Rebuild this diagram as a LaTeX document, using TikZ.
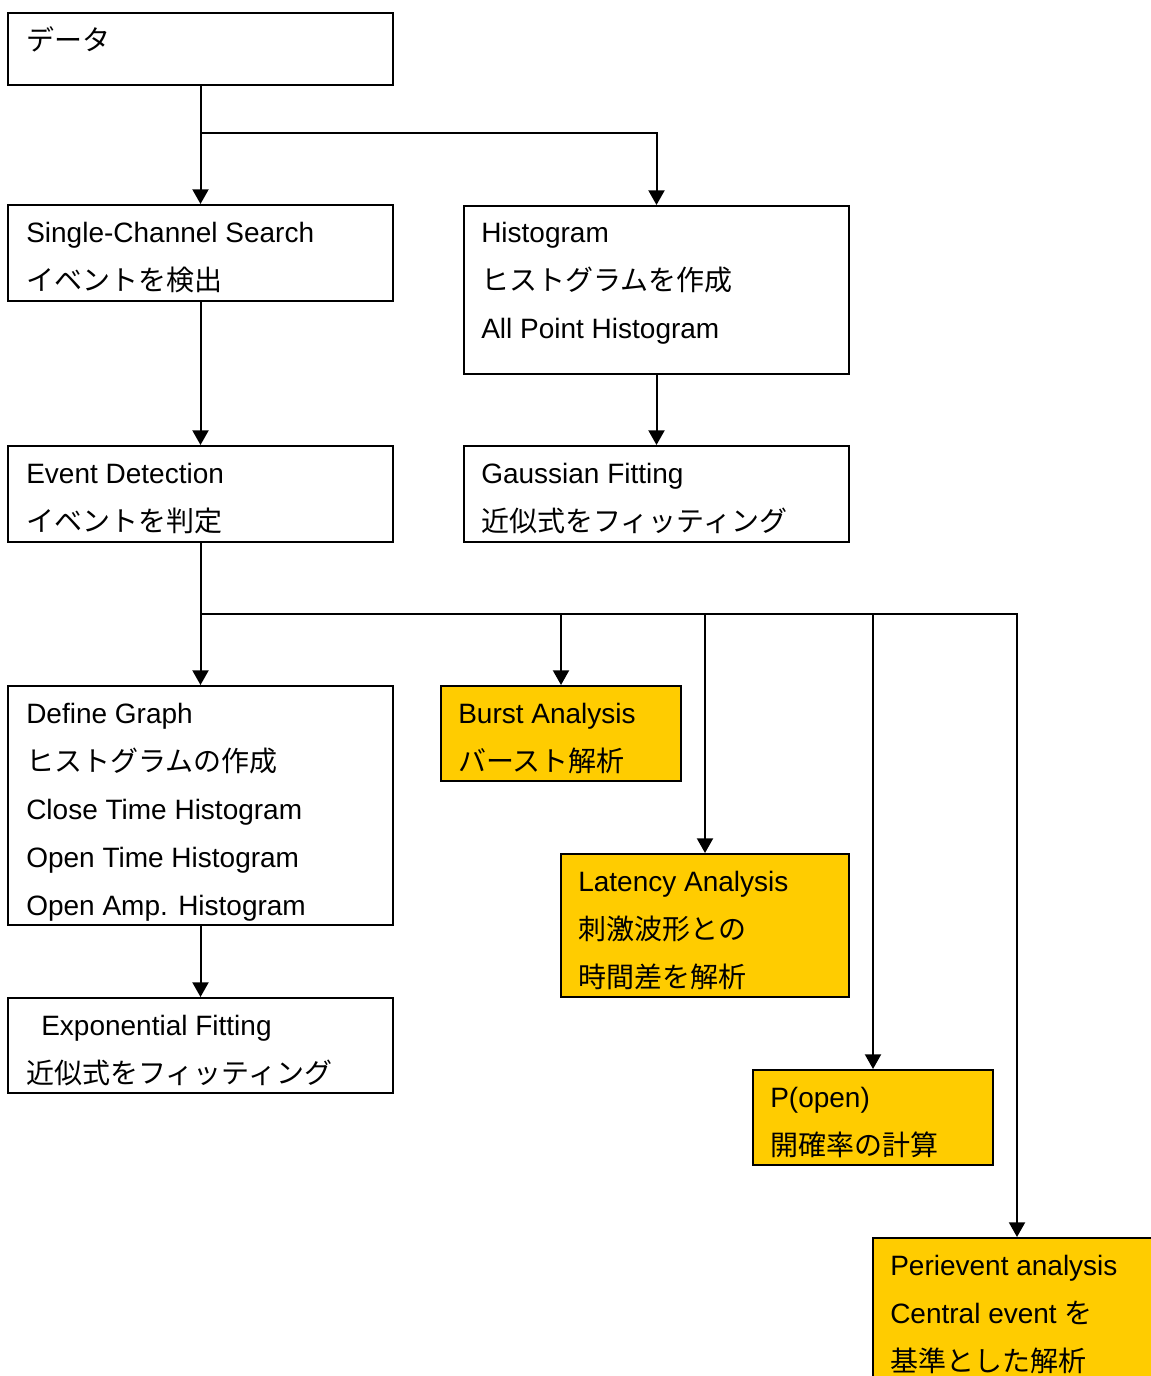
\documentclass[tikz,border=0pt]{standalone}
\usepackage{fontspec}
\setmainfont{Liberation Sans}
\newfontfamily\jpfont{Noto Sans CJK JP}
\newcommand\jptext[1]{{\jpfont #1}}
\usetikzlibrary{arrows.meta,fit}
\definecolor{boxyellow}{HTML}{FFCC00}
\tikzset{
  box/.style={draw=black, line width=1.5pt, inner sep=0pt, fill=white},
  ybox/.style={box, fill=boxyellow},
  txt/.style={anchor=base west, inner sep=0pt, font=\fontsize{21}{25}\selectfont},
  conn/.style={line width=1.5pt},
  arr/.style={conn, -{Triangle[width=12pt,length=11pt]}}
}
\begin{document}
\begin{tikzpicture}[x=0.75pt,y=-0.75pt]
\path[use as bounding box] (0,0) rectangle (1151,1376);
\clip (0,0) rectangle (1151,1376);
% boxes
\node[box, fit={(8,13)(393,85)}] (data) {};
\node[box, fit={(8,205)(393,301)}] (single) {};
\node[box, fit={(464,206)(849,374)}] (hist) {};
\node[box, fit={(8,446)(393,542)}] (ed) {};
\node[box, fit={(464,446)(849,542)}] (gauss) {};
\node[box, fit={(8,686)(393,925)}] (dg) {};
\node[ybox, fit={(441,686)(681,781)}] (burst) {};
\node[ybox, fit={(561,854)(849,997)}] (lat) {};
\node[box, fit={(8,998)(393,1093)}] (expf) {};
\node[ybox, fit={(753,1070)(993,1165)}] (popen) {};
\node[ybox, fit={(873,1238)(1161,1400)}] (peri) {};
% texts
\node[txt] (t1) at (26,51) {\jptext{データ}};
\node[txt] (t2a) at (26,243) {Single-Channel Search};
\node[txt] (t2b) at (26,291) {\jptext{イベントを検出}};
\node[txt] (t3a) at (481,243) {Histogram};
\node[txt] (t3b) at (481,291) {\jptext{ヒストグラムを作成}};
\node[txt] (t3c) at (481,339) {All Point Histogram};
\node[txt] (t4a) at (26,483) {Event Detection};
\node[txt] (t4b) at (26,531) {\jptext{イベントを判定}};
\node[txt] (t5a) at (481,483) {Gaussian Fitting};
\node[txt] (t5b) at (481,531) {\jptext{近似式をフィッティング}};
\node[txt] (t6a) at (26,723) {Define Graph};
\node[txt] (t6b) at (26,771) {\jptext{ヒストグラムの作成}};
\node[txt] (t6c) at (26,819) {Close Time Histogram};
\node[txt] (t6d) at (26,867) {Open Time Histogram};
\node[txt] (t6e) at (26,915) {Open Amp. Histogram};
\node[txt] (t7a) at (458,723) {Burst Analysis};
\node[txt] (t7b) at (458,771) {\jptext{バースト解析}};
\node[txt] (t8a) at (578,891) {Latency Analysis};
\node[txt] (t8b) at (578,939) {\jptext{刺激波形との}};
\node[txt] (t8c) at (578,987) {\jptext{時間差を解析}};
\node[txt] (t9a) at (41,1035) {Exponential Fitting};
\node[txt] (t9b) at (26,1083) {\jptext{近似式をフィッティング}};
\node[txt] (t10a) at (770,1107) {P(open)};
\node[txt] (t10b) at (770,1155) {\jptext{開確率の計算}};
\node[txt] (t11a) at (890,1275) {Perievent analysis};
\node[txt] (t11b) at (890,1323) {Central event \jptext{を}};
\node[txt] (t11c) at (890,1371) {\jptext{基準とした解析}};
% connectors
\coordinate (j1) at (200.5,133);
\coordinate (j2) at (200.5,614);
\draw[arr] (data.south) -- (single.north);
\draw[arr] (j1) -| (hist.north);
\draw[arr] (single.south) -- (ed.north);
\draw[arr] (hist.south) -- (gauss.north);
\draw[arr] (ed.south) -- (dg.north);
\draw[arr] (j2) -| (burst.north);
\draw[arr] (j2) -| (lat.north);
\draw[arr] (j2) -| (popen.north);
\draw[arr] (j2) -| (peri.north);
\draw[arr] (dg.south) -- (expf.north);
\end{tikzpicture}
\end{document}
